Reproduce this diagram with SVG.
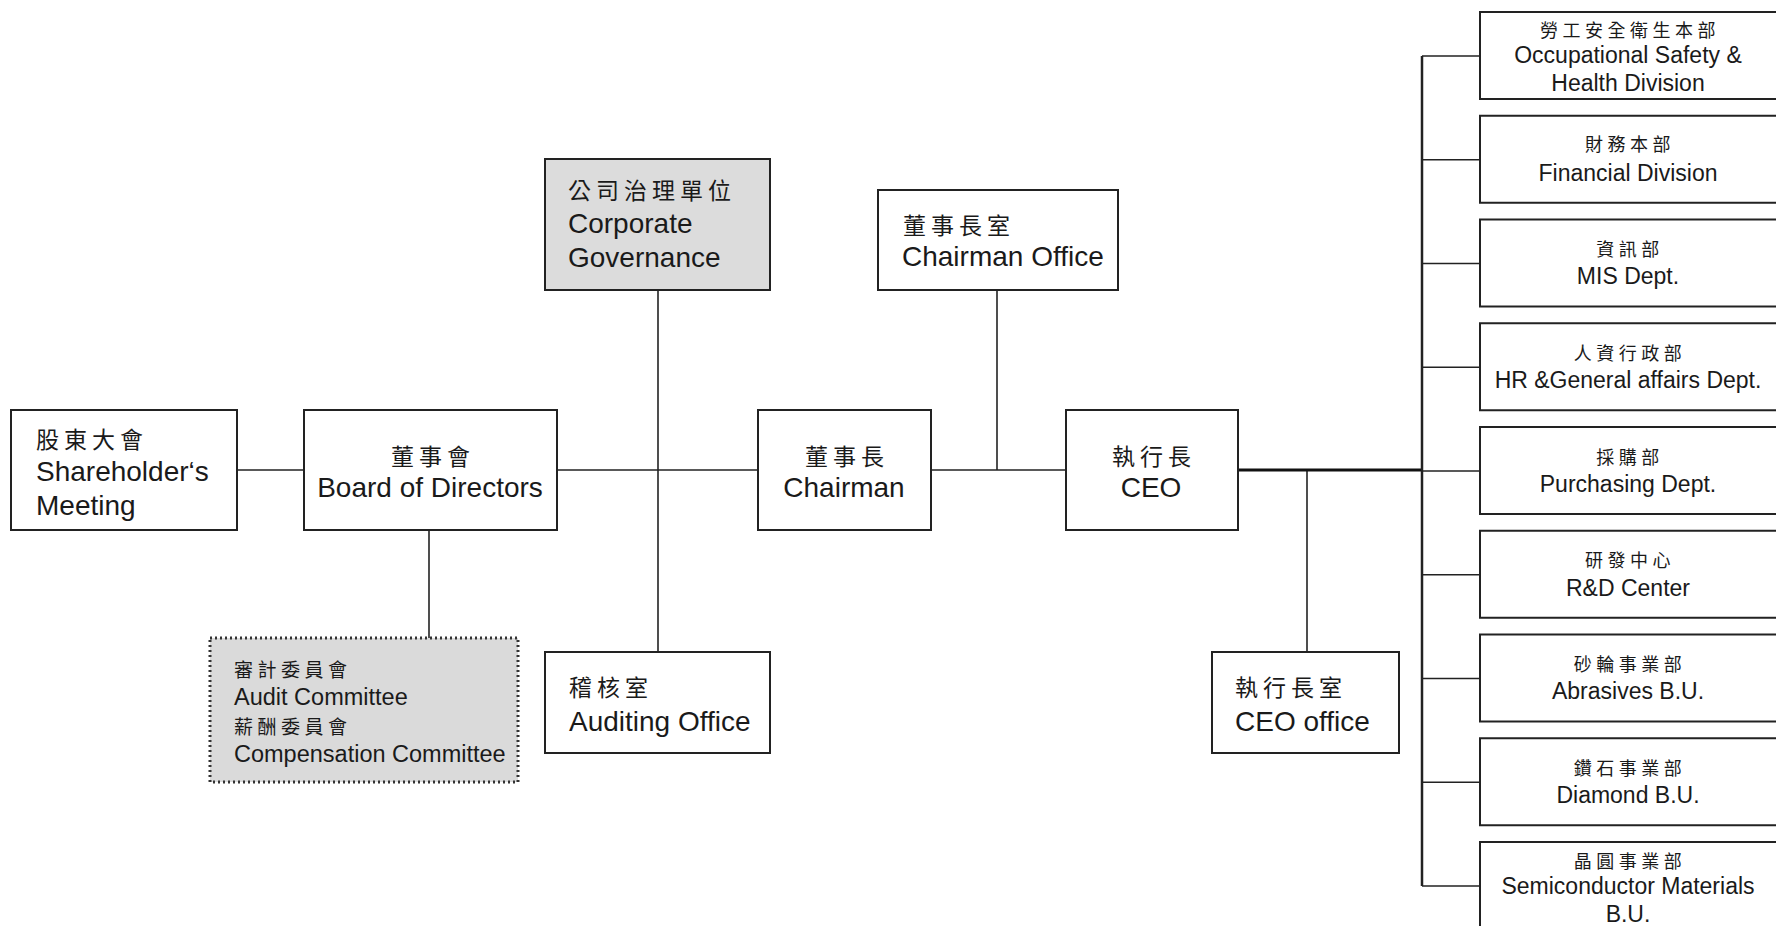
<svg xmlns="http://www.w3.org/2000/svg" width="1776" height="926" viewBox="0 0 1776 926">
<style>
.bx{fill:#fff;stroke:#222;stroke-width:2}
.gy{fill:#dcdcdc;stroke:#222;stroke-width:2}
.dt{fill:#dadada;stroke:#333;stroke-width:3;stroke-dasharray:2 3}
.ln{stroke:#222;stroke-width:1.6;fill:none}
.en{font-family:"Liberation Sans",Arial,sans-serif;font-size:28px;fill:#1a1a1a}
.zh{font-family:"Noto Sans CJK TC","Noto Sans CJK SC",sans-serif;font-size:23px;letter-spacing:5px;fill:#1a1a1a;dominant-baseline:central}
.ens{font-family:"Liberation Sans",Arial,sans-serif;font-size:23px;fill:#1a1a1a}
.enm{font-family:"Liberation Sans",Arial,sans-serif;font-size:23.5px;fill:#1a1a1a}
.zhs{font-family:"Noto Sans CJK TC","Noto Sans CJK SC",sans-serif;font-size:18px;letter-spacing:4.5px;fill:#1a1a1a;dominant-baseline:central}
.zhm{font-family:"Noto Sans CJK TC","Noto Sans CJK SC",sans-serif;font-size:19px;letter-spacing:4.5px;fill:#1a1a1a;dominant-baseline:central}
.c{text-anchor:middle}
</style>
<rect width="1776" height="926" fill="#fff"/>
<g id="connectors">
<line class="ln" x1="237" y1="470" x2="304" y2="470"/>
<line class="ln" x1="557" y1="470" x2="758" y2="470"/>
<line class="ln" x1="931" y1="470" x2="1066" y2="470"/>
<line class="ln" x1="658" y1="290" x2="658" y2="652"/>
<line class="ln" x1="997" y1="290" x2="997" y2="470"/>
<line class="ln" x1="429" y1="530" x2="429" y2="638"/>
<line class="ln" x1="1307" y1="470" x2="1307" y2="652"/>
<line stroke="#111" stroke-width="3" x1="1238" y1="470" x2="1422" y2="470"/>
<line stroke="#222" stroke-width="2.5" x1="1422" y1="56" x2="1422" y2="886"/>
<line class="ln" x1="1422" y1="56" x2="1480" y2="56"/>
<line class="ln" x1="1422" y1="159.75" x2="1480" y2="159.75"/>
<line class="ln" x1="1422" y1="263.5" x2="1480" y2="263.5"/>
<line class="ln" x1="1422" y1="367.25" x2="1480" y2="367.25"/>
<line class="ln" x1="1422" y1="471" x2="1480" y2="471"/>
<line class="ln" x1="1422" y1="574.75" x2="1480" y2="574.75"/>
<line class="ln" x1="1422" y1="678.5" x2="1480" y2="678.5"/>
<line class="ln" x1="1422" y1="782.25" x2="1480" y2="782.25"/>
<line class="ln" x1="1422" y1="886" x2="1480" y2="886"/>
</g>
<g id="shareholders">
<rect class="bx" x="11" y="410" width="226" height="120"/>
<text class="zh" x="36" y="438">股東大會</text>
<text class="en" x="36" y="481">Shareholder‘s</text>
<text class="en" x="36" y="515">Meeting</text>
</g>
<g id="board">
<rect class="bx" x="304" y="410" width="253" height="120"/>
<text class="zh c" x="433" y="455">董事會</text>
<text class="en c" x="430" y="497">Board of Directors</text>
</g>
<g id="governance">
<rect class="gy" x="545" y="159" width="225" height="131"/>
<text class="zh" x="568" y="189">公司治理單位</text>
<text class="en" x="568" y="233">Corporate</text>
<text class="en" x="568" y="267">Governance</text>
</g>
<g id="chairman-office">
<rect class="bx" x="878" y="190" width="240" height="100"/>
<text class="zh" x="903" y="224">董事長室</text>
<text class="en" x="902" y="266">Chairman Office</text>
</g>
<g id="chairman">
<rect class="bx" x="758" y="410" width="173" height="120"/>
<text class="zh c" x="847" y="455">董事長</text>
<text class="en c" x="844" y="497">Chairman</text>
</g>
<g id="ceo">
<rect class="bx" x="1066" y="410" width="172" height="120"/>
<text class="zh c" x="1154" y="455">執行長</text>
<text class="en c" x="1151" y="497">CEO</text>
</g>
<g id="committees">
<rect class="dt" x="210" y="638" width="308" height="144"/>
<text class="zhm" x="234" y="668">審計委員會</text>
<text class="enm" x="234" y="705">Audit Committee</text>
<text class="zhm" x="234" y="725">薪酬委員會</text>
<text class="enm" x="234" y="762">Compensation Committee</text>
</g>
<g id="auditing-office">
<rect class="bx" x="545" y="652" width="225" height="101"/>
<text class="zh" x="569" y="686">稽核室</text>
<text class="en" x="569" y="731">Auditing Office</text>
</g>
<g id="ceo-office">
<rect class="bx" x="1212" y="652" width="187" height="101"/>
<text class="zh" x="1235" y="686">執行長室</text>
<text class="en" x="1235" y="731">CEO office</text>
</g>
<g id="osh">
<rect class="bx" x="1480" y="12" width="310" height="87"/>
<text class="zhs c" x="1630" y="29">勞工安全衛生本部</text>
<text class="ens c" x="1628" y="63">Occupational Safety &amp;</text>
<text class="ens c" x="1628" y="91">Health Division</text>
</g>
<g id="finance">
<rect class="bx" x="1480" y="115.75" width="310" height="87"/>
<text class="zhs c" x="1630" y="143">財務本部</text>
<text class="ens c" x="1628" y="181">Financial Division</text>
</g>
<g id="mis">
<rect class="bx" x="1480" y="219.5" width="310" height="87"/>
<text class="zhs c" x="1630" y="248">資訊部</text>
<text class="ens c" x="1628" y="284">MIS Dept.</text>
</g>
<g id="hr">
<rect class="bx" x="1480" y="323.25" width="310" height="87"/>
<text class="zhs c" x="1630" y="352">人資行政部</text>
<text class="ens c" x="1628" y="388">HR &amp;General affairs Dept.</text>
</g>
<g id="purchasing">
<rect class="bx" x="1480" y="427" width="310" height="87"/>
<text class="zhs c" x="1630" y="456">採購部</text>
<text class="ens c" x="1628" y="492">Purchasing Dept.</text>
</g>
<g id="rd">
<rect class="bx" x="1480" y="530.75" width="310" height="87"/>
<text class="zhs c" x="1630" y="559">研發中心</text>
<text class="ens c" x="1628" y="596">R&amp;D Center</text>
</g>
<g id="abrasives">
<rect class="bx" x="1480" y="634.5" width="310" height="87"/>
<text class="zhs c" x="1630" y="663">砂輪事業部</text>
<text class="ens c" x="1628" y="699">Abrasives B.U.</text>
</g>
<g id="diamond">
<rect class="bx" x="1480" y="738.25" width="310" height="87"/>
<text class="zhs c" x="1630" y="767">鑽石事業部</text>
<text class="ens c" x="1628" y="803">Diamond B.U.</text>
</g>
<g id="semi">
<rect class="bx" x="1480" y="842" width="310" height="100"/>
<text class="zhs c" x="1630" y="860">晶圓事業部</text>
<text class="ens c" x="1628" y="894">Semiconductor Materials</text>
<text class="ens c" x="1628" y="922">B.U.</text>
</g>
</svg>
